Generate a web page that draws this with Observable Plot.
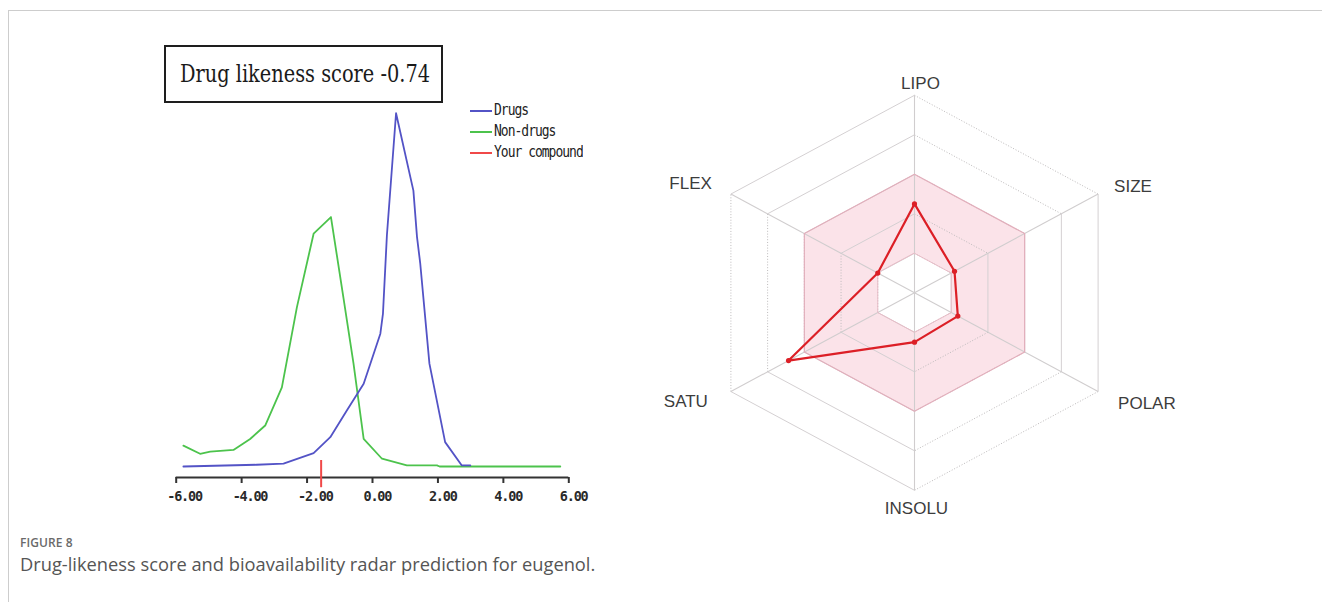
<!DOCTYPE html>
<html>
<head>
<meta charset="utf-8">
<script src="https://cdn.jsdelivr.net/npm/d3@7"></script>
<script src="https://cdn.jsdelivr.net/npm/@observablehq/plot@0.6"></script>
<style>
  html, body { margin: 0; padding: 0; background: #fff; }
  body { width: 1322px; height: 602px; position: relative; overflow: hidden; font-family: "Open Sans", sans-serif; }
  #frame { position: absolute; left: 8px; top: 10px; width: 1320px; height: 600px;
           border-left: 1.5px solid #cdcdcd; border-top: 1.5px solid #cdcdcd; }
  #left { position: absolute; left: 160px; top: 40px; }
  #right { position: absolute; left: 640px; top: 60px; }
  #titlebox { position: absolute; left: 164px; top: 45px; width: 275px; height: 54px;
              border: 2px solid #1e1e1e; background: #fff; }
  #titletext { position: absolute; left: 14px; top: 50%; white-space: nowrap;
               font-family: "DejaVu Serif", serif; font-stretch: condensed; font-size: 24px; color: #1a1a1a;
               transform-origin: 0 50%; line-height: 1; }
  #legend { position: absolute; left: 470px; top: 100px; font-family: "DejaVu Sans Mono", monospace;
            font-size: 13px; letter-spacing: -1px; color: #222; }
  .lrow { position: relative; height: 21px; }
  .lsw { position: absolute; left: 0; top: 10px; width: 22px; height: 2px; }
  .ltx { position: absolute; left: 24px; top: 1px; white-space: nowrap; line-height: 18px;
         transform: scaleY(1.2); transform-origin: 0 50%; }
  #cap1 { position: absolute; left: 20px; top: 535px; font-size: 12px; font-weight: 600; color: #6a6a6a; letter-spacing: 0.1px; line-height: 16px; }
  #cap2 { position: absolute; left: 20px; top: 552px; font-size: 18.3px; color: #555; line-height: 24px; white-space: nowrap; }
</style>
</head>
<body>
<div id="frame"></div>
<div id="left"></div>
<div id="titlebox"><span id="titletext"></span></div>
<div id="legend"></div>
<div id="right"></div>
<div id="cap1"></div>
<div id="cap2"></div>
<script>
// ---------------- data ----------------
const titleText = "Drug likeness score -0.74";
const captionLabel = "FIGURE 8";
const captionText = "Drug-likeness score and bioavailability radar prediction for eugenol.";

const legendLabels = ["Drugs", "Non-drugs", "Your compound"];

// distribution curves (x = drug-likeness score, y = relative frequency)
const drugsX = [-5.78, -3.54, -2.72, -1.80, -1.29, -0.78, -0.27, 0.24, 0.32, 0.44, 0.72, 1.25, 1.36, 1.46, 1.74, 2.22, 2.73, 2.99];
const drugsY = [0.000, 0.005, 0.008, 0.038, 0.083, 0.159, 0.234, 0.376, 0.433, 0.654, 1.000, 0.781, 0.650, 0.574, 0.291, 0.069, 0.003, 0.003];
const nonDrugsX = [-5.78, -5.27, -4.96, -4.25, -3.74, -3.28, -2.77, -2.31, -1.80, -1.27, -0.89, -0.58, -0.27, 0.29, 1.05, 1.97, 2.05, 5.74];
const nonDrugsY = [0.059, 0.036, 0.042, 0.047, 0.078, 0.116, 0.224, 0.451, 0.659, 0.706, 0.479, 0.291, 0.078, 0.022, 0.003, 0.003, 0.000, 0.000];
const compoundScore = [-1.57];
const xTicks = [-6, -4, -2, 0, 2, 4, 6];

// bioavailability radar (normalised radius, ring units 0..5)
const radarAxes = ["LIPO", "SIZE", "POLAR", "INSOLU", "SATU", "FLEX"];
const compoundRadar = [2.25, 1.09, 1.18, 1.25, 3.43, 1.00];
const ringLevels = [1, 2, 3, 4, 5];
const optimalRange = [1, 3];

// ---------------- left chart ----------------
const drugs = drugsX.map((x, i) => ({x, y: drugsY[i]}));
const nonDrugs = nonDrugsX.map((x, i) => ({x, y: nonDrugsY[i]}));
const yMin = -0.0311;
const monoFont = "DejaVu Sans Mono";

const left = Plot.plot({
  width: 460, height: 480,
  marginLeft: 15.7, marginRight: 51.7, marginTop: 72.7, marginBottom: 43,
  x: {domain: [-6, 6], axis: null},
  y: {domain: [yMin, 1], axis: null},
  style: {background: "transparent", letterSpacing: "-1.2px"},
  marks: [
    Plot.axisX({ticks: xTicks, tickSize: 6, tickFormat: () => "", label: null, stroke: "#333", strokeWidth: 2}),
    Plot.ruleY([yMin], {x1: xTicks[0], x2: xTicks[xTicks.length - 1], stroke: "#333", strokeWidth: 2}),
    Plot.text(xTicks, {x: d => d, y: yMin, text: d => d.toFixed(2), dx: -9, dy: 19, textAnchor: "start",
                       fontSize: 13.5, fontWeight: "bold", fontFamily: monoFont, fill: "#2a2a2a"}),
    Plot.line(nonDrugs, {x: "x", y: "y", stroke: "#4cc34c", strokeWidth: 1.8}),
    Plot.line(drugs, {x: "x", y: "y", stroke: "#5353c6", strokeWidth: 1.8}),
    Plot.ruleX(compoundScore, {x: d => d, y1: 0.017, y2: -0.06, stroke: "#f04848", strokeWidth: 2})
  ]
});
document.getElementById("left").appendChild(left);

// title box
const tt = document.getElementById("titletext");
tt.textContent = titleText;
{
  const w = tt.getBoundingClientRect().width;
  const target = 250;
  tt.style.transform = `translateY(-50%) scaleX(${target / w})`;
}

// legend
const legendColors = ["#5353c6", "#4cc34c", "#f04848"];
const lg = document.getElementById("legend");
legendLabels.forEach((lab, i) => {
  const row = document.createElement("div");
  row.className = "lrow";
  row.innerHTML = `<div class="lsw" style="background:${legendColors[i]}"></div><div class="ltx">${lab}</div>`;
  lg.appendChild(row);
});

// ---------------- radar ----------------
const A = radarAxes.length;
const pt = (r, i) => ({x: r * Math.sin(2 * Math.PI * i / A), y: r * Math.cos(2 * Math.PI * i / A)});
const hexagon = r => radarAxes.map((_, i) => pt(r, i));
const edges = ringLevels.flatMap(k => radarAxes.map((_, i) => {
  const a = pt(k, i), b = pt(k, (i + 1) % A);
  return {x1: a.x, y1: a.y, x2: b.x, y2: b.y, dotted: i % 2 === 0};
}));
const outer = ringLevels[ringLevels.length - 1];
const compoundPts = compoundRadar.map((r, i) => pt(r, i));

const labelStyle = {
  LIPO:   {dx: 6,   dy: -12, textAnchor: "middle"},
  SIZE:   {dx: 16,  dy: -8,  textAnchor: "start"},
  POLAR:  {dx: 20,  dy: 12,  textAnchor: "start"},
  INSOLU: {dx: 2,   dy: 18,  textAnchor: "middle"},
  SATU:   {dx: -23, dy: 10,  textAnchor: "end"},
  FLEX:   {dx: -19, dy: -11, textAnchor: "end"}
};

const right = Plot.plot({
  width: 580, height: 480, margin: 0,
  x: {domain: [-6.462, 7.217], axis: null},
  y: {domain: [-6.271, 5.881], axis: null},
  style: {background: "transparent"},
  marks: [
    Plot.line(hexagon(optimalRange[1]), {x: "x", y: "y", curve: "linear-closed", fill: "#fbe3e9", stroke: "none"}),
    Plot.line(hexagon(optimalRange[0]), {x: "x", y: "y", curve: "linear-closed", fill: "#ffffff", stroke: "none"}),
    Plot.link(edges.filter(d => !d.dotted), {x1: "x1", y1: "y1", x2: "x2", y2: "y2", stroke: "#d4d0d2", strokeWidth: 1}),
    Plot.link(edges.filter(d => d.dotted), {x1: "x1", y1: "y1", x2: "x2", y2: "y2", stroke: "#bdbabb", strokeWidth: 1, strokeDasharray: "1,1.8"}),
    Plot.link(radarAxes, {x1: 0, y1: 0, x2: (d, i) => pt(outer, i).x, y2: (d, i) => pt(outer, i).y, stroke: "#d0cdce", strokeWidth: 1.1}),
    Plot.line(hexagon(optimalRange[1]), {x: "x", y: "y", curve: "linear-closed", stroke: "#e2aebb", strokeWidth: 1.2}),
    Plot.line(hexagon(optimalRange[0]), {x: "x", y: "y", curve: "linear-closed", stroke: "#e8bcc7", strokeWidth: 1}),
    Plot.line(compoundPts, {x: "x", y: "y", curve: "linear-closed", stroke: "#dc1f26", strokeWidth: 2.2}),
    Plot.dot(compoundPts, {x: "x", y: "y", r: 2.6, fill: "#dc1f26"}),
    ...radarAxes.map((name, i) => Plot.text([name], {
      x: () => pt(outer, i).x, y: () => pt(outer, i).y, text: d => d,
      ...labelStyle[name], fontSize: 17, fontFamily: "Liberation Sans, Arial, sans-serif", fill: "#3c3c3c"
    }))
  ]
});
document.getElementById("right").appendChild(right);

// caption
document.getElementById("cap1").textContent = captionLabel;
document.getElementById("cap2").textContent = captionText;
</script>
</body>
</html>
